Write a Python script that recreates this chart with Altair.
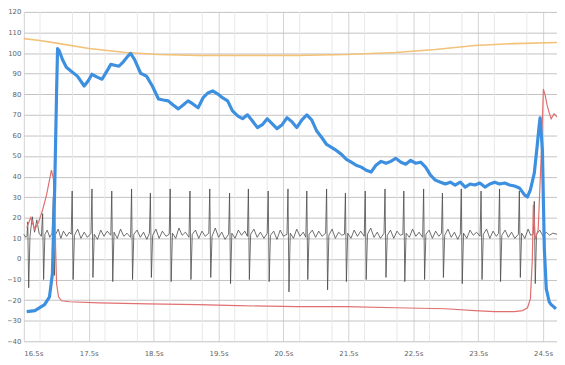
import altair as alt
import pandas as pd

# ---- data ----
x_labels = ["16.5s", "17s", "17.5s", "18s", "18.5s", "19s", "19.5s", "20s", "20.5s",
            "21s", "21.5s", "22s", "22.5s", "23s", "23.5s", "24s", "24.5s"]
x_ticks = list(range(17))
x_minor = [0.5, 1.5, 2.5, 3.5, 4.5, 5.5, 6.5, 7.5, 8.5, 9.5, 10.5, 11.5, 12.5, 13.5, 14.5, 15.5]
y_ticks = [-40, -30, -20, -10, 0, 10, 20, 30, 40, 50, 60, 70, 80, 90, 100, 110, 120]

orange = [(0.0, 107.0), (0.49, 106.1), (1.10, 104.6), (2.01, 102.2), (3.14, 100.3), (4.15, 99.3),
          (5.37, 98.9), (6.89, 98.9), (8.41, 98.9), (9.94, 99.3), (11.46, 100.3), (12.68, 101.7),
          (13.90, 103.7), (15.12, 104.6), (16.43, 105.1)]

blue = [(0.09, -25.6), (0.34, -25.1), (0.64, -22.2), (0.79, -18.4), (0.88, -7.3), (0.95, 33.5),
        (1.01, 81.6), (1.04, 102.2), (1.10, 100.8), (1.19, 96.9), (1.31, 93.1), (1.46, 91.2),
        (1.65, 88.8), (1.86, 84.0), (1.98, 86.4), (2.10, 89.7), (2.26, 88.3), (2.41, 87.3),
        (2.56, 91.2), (2.68, 94.5), (2.80, 94.1), (2.93, 93.6), (3.08, 96.0), (3.20, 98.4),
        (3.29, 99.8), (3.41, 96.9), (3.60, 90.2), (3.78, 88.8), (3.96, 84.0), (4.15, 77.7),
        (4.30, 77.2), (4.45, 76.8), (4.60, 74.8), (4.76, 72.9), (4.91, 74.8), (5.06, 76.8),
        (5.21, 75.3), (5.37, 73.4), (5.52, 78.2), (5.67, 80.6), (5.82, 81.6), (5.98, 80.1),
        (6.13, 78.2), (6.28, 76.8), (6.43, 71.9), (6.59, 69.5), (6.74, 68.1), (6.89, 70.0),
        (7.04, 67.1), (7.20, 63.8), (7.35, 65.2), (7.50, 68.1), (7.65, 65.7), (7.80, 63.3),
        (7.96, 65.2), (8.11, 68.6), (8.26, 66.7), (8.41, 63.8), (8.57, 67.6), (8.72, 70.0),
        (8.87, 67.6), (9.02, 62.3), (9.18, 59.0), (9.33, 55.6), (9.48, 54.2), (9.63, 52.7),
        (9.79, 50.8), (9.94, 48.4), (10.09, 47.0), (10.24, 45.5), (10.40, 44.6), (10.55, 43.1),
        (10.70, 42.2), (10.85, 45.5), (11.01, 47.4), (11.16, 46.5), (11.31, 47.4), (11.46, 48.9),
        (11.62, 47.0), (11.77, 46.0), (11.92, 47.9), (12.07, 46.5), (12.23, 47.0), (12.38, 44.6),
        (12.53, 40.7), (12.68, 38.3), (12.84, 37.3), (12.99, 36.4), (13.14, 37.3), (13.29, 35.9),
        (13.45, 37.3), (13.60, 34.9), (13.75, 36.4), (13.90, 35.9), (14.05, 36.9), (14.21, 34.9),
        (14.36, 36.4), (14.51, 37.3), (14.66, 36.4), (14.82, 36.9), (14.97, 35.9), (15.12, 35.4),
        (15.27, 34.5), (15.43, 31.1), (15.52, 30.1), (15.61, 33.5), (15.73, 41.7), (15.82, 55.1),
        (15.88, 64.7), (15.91, 68.6), (15.98, 52.7), (16.04, 4.7), (16.10, -14.5), (16.19, -20.8),
        (16.25, -22.2), (16.40, -24.2)]

red = [(0.09, 15.2), (0.21, 20.0), (0.34, 14.3), (0.46, 18.1), (0.58, 23.9), (0.70, 31.1),
       (0.79, 38.3), (0.85, 43.1), (0.91, 39.3), (0.95, 28.7), (0.98, 4.7), (1.01, -12.1),
       (1.07, -18.4), (1.16, -20.3), (1.40, -20.8), (2.32, -21.3), (3.84, -21.8), (5.37, -22.2),
       (6.59, -22.7), (8.41, -23.2), (9.94, -23.2), (11.46, -23.7), (12.99, -24.2), (13.90, -25.1),
       (14.51, -25.6), (15.12, -25.6), (15.37, -25.1), (15.52, -23.7), (15.61, -19.4), (15.67, -0.1),
       (15.70, 26.3), (15.76, 9.5), (15.85, 14.3), (15.95, 52.7), (16.01, 82.5), (16.07, 79.2),
       (16.13, 74.3), (16.19, 71.0), (16.25, 68.1), (16.34, 70.5), (16.43, 69.0)]

ecg = [(0.00, 12.0), (0.06, 10.5), (0.10, 11.5), (0.12, 18.0), (0.15, -14.0), (0.19, 11.0),
       (0.26, 20.5), (0.33, 13.0), (0.40, 19.0), (0.47, 12.5), (0.54, 11.0),
       (0.58, 22.0), (0.61, -10.0), (0.65, 12.0), (0.72, 14.0), (0.80, 10.5), (0.87, 12.5),
       (0.91, 30.0), (0.94, -8.0), (0.98, 12.0), (1.06, 14.5), (1.14, 10.0), (1.22, 13.5),
       (1.32, 11.0), (1.40, 13.0), (1.46, 12.0),
       (1.49, 33.0), (1.52, -10.0), (1.56, 11.5), (1.66, 14.5), (1.76, 10.0), (1.86, 13.0), (1.96, 10.5), (2.07, 12.5),
       (2.10, 34.0), (2.13, -9.0), (2.17, 12.0), (2.27, 9.5), (2.37, 14.0), (2.47, 11.0), (2.57, 13.5), (2.68, 11.5),
       (2.71, 33.0), (2.74, -11.0), (2.78, 13.0), (2.88, 10.0), (2.98, 14.5), (3.08, 11.0), (3.18, 12.5), (3.29, 10.5),
       (3.32, 34.0), (3.35, -10.0), (3.39, 12.0), (3.49, 14.0), (3.59, 10.5), (3.69, 13.0), (3.79, 9.5), (3.87, 12.5),
       (3.90, 32.0), (3.93, -9.0), (3.97, 11.5), (4.07, 14.5), (4.17, 10.0), (4.27, 13.5), (4.38, 11.0), (4.48, 12.0),
       (4.51, 34.0), (4.54, -11.0), (4.58, 12.5), (4.68, 10.0), (4.78, 15.0), (4.88, 11.5), (4.98, 13.0), (5.09, 10.5),
       (5.12, 33.0), (5.15, -10.0), (5.19, 12.0), (5.29, 14.0), (5.39, 10.0), (5.49, 13.5), (5.59, 11.0), (5.70, 12.5),
       (5.73, 34.0), (5.76, -9.0), (5.80, 11.0), (5.90, 15.0), (6.00, 10.5), (6.10, 13.0), (6.20, 9.5), (6.31, 12.0),
       (6.34, 32.0), (6.37, -12.0), (6.41, 12.5), (6.51, 10.0), (6.61, 14.0), (6.71, 11.5), (6.81, 13.5), (6.89, 11.0),
       (6.92, 34.0), (6.95, -10.0), (6.99, 12.0), (7.09, 14.5), (7.19, 10.5), (7.29, 13.0), (7.40, 10.0), (7.50, 12.5),
       (7.53, 33.0), (7.56, -11.0), (7.60, 11.5), (7.70, 13.5), (7.80, 9.5), (7.90, 14.0), (8.00, 11.0), (8.11, 12.0),
       (8.14, 34.0), (8.17, -16.0), (8.21, 12.5), (8.31, 10.0), (8.41, 14.5), (8.51, 11.0), (8.61, 13.0), (8.69, 10.5),
       (8.72, 33.0), (8.75, -10.0), (8.79, 12.0), (8.89, 14.0), (8.99, 10.5), (9.09, 13.5), (9.19, 11.0), (9.30, 12.5),
       (9.33, 34.0), (9.36, -15.0), (9.40, 11.5), (9.50, 14.5), (9.60, 10.0), (9.70, 13.0), (9.80, 11.5), (9.88, 12.0),
       (9.91, 32.0), (9.94, -11.0), (9.98, 12.5), (10.08, 10.0), (10.18, 14.0), (10.28, 11.0), (10.38, 13.5), (10.49, 11.0),
       (10.52, 33.0), (10.55, -10.0), (10.59, 12.0), (10.69, 15.0), (10.79, 10.5), (10.89, 13.0), (10.99, 10.0), (11.10, 12.5),
       (11.13, 34.0), (11.16, -9.0), (11.20, 11.5), (11.30, 14.0), (11.40, 10.0), (11.50, 13.5), (11.60, 11.5), (11.68, 12.0),
       (11.71, 33.0), (11.74, -11.0), (11.78, 12.5), (11.88, 10.5), (11.98, 14.5), (12.08, 11.0), (12.18, 13.0), (12.29, 10.5),
       (12.32, 34.0), (12.35, -10.0), (12.39, 12.0), (12.49, 14.0), (12.59, 10.0), (12.69, 13.5), (12.79, 11.0), (12.87, 12.5),
       (12.90, 32.0), (12.93, -9.0), (12.97, 11.5), (13.07, 14.5), (13.17, 10.5), (13.27, 13.0), (13.37, 9.5), (13.45, 12.0),
       (13.48, 34.0), (13.51, -12.0), (13.55, 12.5), (13.65, 10.0), (13.75, 14.0), (13.85, 11.5), (13.95, 13.0), (14.06, 11.0),
       (14.09, 33.0), (14.12, -10.0), (14.16, 12.0), (14.26, 14.5), (14.36, 10.0), (14.46, 13.5), (14.56, 11.0), (14.63, 12.5),
       (14.66, 34.0), (14.69, -11.0), (14.73, 11.5), (14.83, 14.0), (14.93, 10.5), (15.03, 13.0), (15.13, 10.0), (15.24, 12.0),
       (15.27, 33.0), (15.30, -9.0), (15.34, 12.5), (15.44, 10.0), (15.54, 14.5), (15.62, 11.5), (15.70, 12.0),
       (15.73, 28.0), (15.76, -12.0), (15.80, 12.0), (15.90, 14.0), (16.00, 11.0), (16.10, 13.0), (16.20, 11.5),
       (16.30, 12.5), (16.43, 12.0)]


def frame(pairs):
    return pd.DataFrame(pairs, columns=["t", "v"])


label_expr = "[" + ",".join("'" + s + "'" for s in x_labels) + "][datum.value]"

x_enc = alt.X("t:Q",
              scale=alt.Scale(domain=[0, 16.43], nice=False, zero=False),
              axis=alt.Axis(values=x_ticks, labelExpr=label_expr, grid=True,
                            gridColor="#d2d2d2", gridWidth=1, ticks=False, domain=False,
                            labelFontSize=7, labelColor="#666666", labelFont="DejaVu Sans",
                            labelPadding=8, title=None))
y_enc = alt.Y("v:Q",
              scale=alt.Scale(domain=[-40, 120], nice=False, zero=False),
              axis=alt.Axis(values=y_ticks, grid=True, gridColor="#c2c2c2", gridWidth=1,
                            ticks=False, domain=False, labelFontSize=7, labelColor="#666666",
                            labelFont="DejaVu Sans", labelPadding=3, title=None))

minor = alt.Chart(pd.DataFrame({"t": x_minor})).mark_rule(
    color="#e8e8e8", strokeWidth=1).encode(x=alt.X("t:Q"))

orange_line = alt.Chart(frame(orange)).mark_line(
    color="#f2c27a", strokeWidth=1.6).encode(x=x_enc, y=y_enc)
ecg_line = alt.Chart(frame(ecg)).mark_line(
    color="#4a4a4a", strokeWidth=0.8).encode(x=x_enc, y=y_enc)
red_line = alt.Chart(frame(red)).mark_line(
    color="#e07070", strokeWidth=1.2).encode(x=x_enc, y=y_enc)
blue_line = alt.Chart(frame(blue)).mark_line(
    color="#3d8fe0", strokeWidth=3.2, strokeJoin="round").encode(x=x_enc, y=y_enc)

chart = alt.layer(minor, orange_line, ecg_line, red_line, blue_line).properties(
    width=539, height=333,
    padding={"left": 16, "top": 2, "right": 0, "bottom": 20},
    autosize=alt.AutoSizeParams(type="none"),
    background="white",
).configure_view(stroke="transparent")

chart.save("out.html", embed_options={"renderer": "svg", "actions": False})
